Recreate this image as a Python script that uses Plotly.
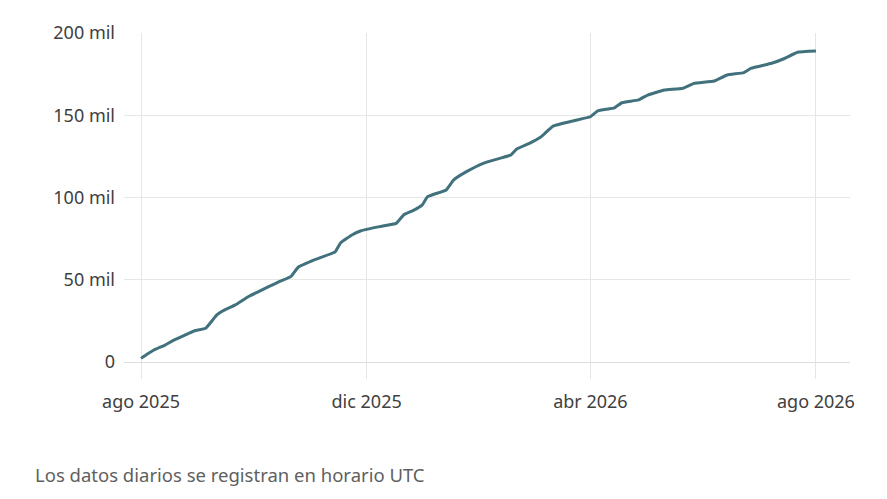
import plotly.graph_objects as go

# cumulative total (dates, values in units)
dates = [
    "2025-08-01", "2025-08-04", "2025-08-08", "2025-08-14", "2025-08-19", "2025-08-25",
    "2025-08-30", "2025-09-05", "2025-09-11", "2025-09-15", "2025-09-21", "2025-09-28",
    "2025-10-03", "2025-10-09", "2025-10-15", "2025-10-21", "2025-10-25", "2025-11-03",
    "2025-11-14", "2025-11-17", "2025-11-23", "2025-11-28", "2025-12-08", "2025-12-17",
    "2025-12-21", "2025-12-26", "2025-12-31", "2026-01-03", "2026-01-13", "2026-01-17",
    "2026-01-24", "2026-02-02", "2026-02-11", "2026-02-17", "2026-02-20", "2026-02-27",
    "2026-03-05", "2026-03-12", "2026-03-23", "2026-04-01", "2026-04-05", "2026-04-14",
    "2026-04-18", "2026-04-27", "2026-05-02", "2026-05-11", "2026-05-21", "2026-05-27",
    "2026-06-07", "2026-06-14", "2026-06-23", "2026-06-27", "2026-07-08", "2026-07-15",
    "2026-07-22", "2026-08-01",
]
totals = [
    2200, 4500, 7300, 10300, 13400, 16500,
    19000, 20500, 28600, 31500, 34700, 39700,
    42500, 45800, 49000, 51900, 57600, 62200,
    67000, 72500, 77200, 79800, 82300, 84300,
    89400, 92000, 95400, 100500, 104600, 110600,
    115700, 120800, 123800, 125800, 129300, 132900,
    136600, 143500, 146700, 149100, 152600, 154500,
    157600, 159300, 162300, 165300, 166400, 169400,
    170800, 174500, 175900, 178600, 181600, 184500,
    188300, 189000,
]

x_ticks = ["2025-08-01", "2025-12-01", "2026-04-01", "2026-08-01"]
x_labels = ["ago 2025", "dic 2025", "abr 2026", "ago 2026"]
y_ticks = [0, 50000, 100000, 150000, 200000]
y_labels = ["0", "50 mil", "100 mil", "150 mil", "200 mil"]

GRID = "#e6e6e6"
TXT = "#404040"
PLOT_W, PLOT_H = 726, 329

fig = go.Figure()
fig.add_trace(go.Scatter(
    x=dates, y=totals, mode="lines",
    line=dict(color="#41717d", width=3, shape="spline", smoothing=0.3),
    hoverinfo="x+y", showlegend=False,
))

fig.update_layout(
    width=887, height=499,
    paper_bgcolor="white", plot_bgcolor="white",
    margin=dict(l=116, r=45, t=25, b=145),
    font=dict(family="Noto Sans, Open Sans, sans-serif", size=18, color=TXT),
    xaxis=dict(
        range=["2025-07-22 19:00", "2026-08-19 10:00"],
        tickvals=x_ticks, ticktext=x_labels,
        showgrid=True, gridcolor=GRID, gridwidth=1,
        ticks="outside", ticklen=16, tickcolor=GRID, tickwidth=1,
        showline=False, zeroline=False,
        ticklabelstandoff=7,
        tickfont=dict(size=18, color=TXT),
    ),
    yaxis=dict(
        range=[0, 200000],
        tickvals=y_ticks, ticktext=y_labels,
        showgrid=True, gridcolor=GRID, gridwidth=1,
        zeroline=True, zerolinecolor="#dedede", zerolinewidth=1,
        showline=False, ticks="",
        ticklabelstandoff=8,
        tickfont=dict(size=18, color=TXT),
    ),
    annotations=[dict(
        text="Los datos diarios se registran en horario UTC",
        xref="paper", yref="paper", x=(33 - 124) / PLOT_W, y=-(474 - 362) / PLOT_H,
        xanchor="left", yanchor="middle", showarrow=False,
        font=dict(size=18.5, color="#5f5f5f"),
    )],
)

fig.write_html("out.html")
